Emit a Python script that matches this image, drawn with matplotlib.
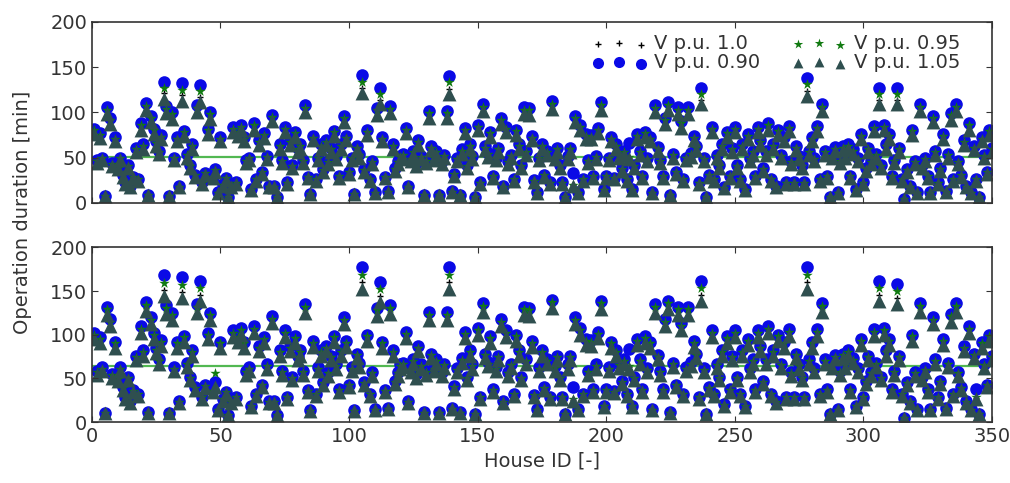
import matplotlib
matplotlib.use("Agg")
import matplotlib.pyplot as plt
import numpy as np

# operation duration [min] per house, upper panel
top_v100 = [
    78, 45, 74, 48, 8, 101, 90, 42, 70, 38,
    48, 30, 22, 40, 18, 28, 58, 25, 84, 62,
    105, 9, 92, 78, 65, 55, 72, 121, 102, 8,
    96, 48, 70, 18, 119, 76, 52, 40, 62, 30,
    103, 117, 22, 32, 78, 96, 28, 35, 11, 70,
    20, 26, 6, 18, 80, 22, 76, 82, 70, 45,
    48, 14, 84, 25, 66, 33, 74, 50, 18, 93,
    18, 6, 62, 45, 80, 22, 66, 40, 75, 58,
    62, 45, 103, 28, 10, 71, 25, 48, 62, 35,
    66, 44, 58, 76, 50, 29, 62, 92, 71, 33,
    48, 10, 60, 52, 127, 35, 77, 25, 44, 11,
    100, 114, 70, 28, 12, 102, 62, 36, 44, 50,
    52, 79, 18, 47, 55, 42, 66, 50, 9, 45,
    97, 60, 48, 55, 9, 44, 51, 97, 126, 12,
    31, 47, 9, 56, 79, 40, 62, 50, 7, 82,
    22, 104, 60, 53, 75, 29, 48, 58, 90, 18,
    80, 44, 51, 25, 77, 62, 40, 101, 55, 100,
    71, 24, 11, 48, 62, 30, 55, 22, 107, 49,
    58, 40, 22, 7, 50, 58, 20, 92, 11, 82,
    25, 73, 45, 72, 29, 50, 79, 106, 14, 29,
    48, 70, 27, 62, 51, 36, 55, 25, 50, 14,
    40, 73, 55, 29, 75, 47, 70, 11, 103, 59,
    45, 29, 90, 106, 9, 52, 33, 101, 86, 25,
    48, 101, 53, 71, 60, 22, 114, 47, 7, 30,
    80, 25, 51, 40, 62, 16, 75, 29, 58, 80,
    40, 25, 62, 14, 73, 47, 55, 29, 80, 66,
    36, 55, 84, 25, 62, 18, 77, 51, 70, 22,
    81, 44, 22, 60, 50, 40, 22, 124, 55, 70,
    47, 81, 25, 104, 55, 29, 7, 51, 59, 11,
    45, 60, 51, 62, 29, 56, 14, 47, 73, 22,
    36, 58, 44, 81, 52, 114, 40, 82, 62, 73,
    29, 45, 114, 58, 25, 4, 35, 18, 77, 44,
    11, 104, 40, 47, 29, 11, 92, 55, 22, 36,
    73, 12, 52, 95, 25, 104, 44, 30, 66, 18,
    84, 11, 60, 25, 7, 70, 51, 33, 77, 58,
]
top_v090 = [
    82, 47, 77, 50, 8, 106, 94, 44, 73, 40,
    50, 31, 23, 42, 19, 29, 61, 26, 88, 65,
    110, 9, 96, 82, 68, 57, 75, 134, 107, 8,
    100, 50, 73, 19, 132, 79, 54, 42, 65, 31,
    108, 130, 23, 33, 82, 100, 29, 37, 12, 73,
    21, 27, 6, 19, 84, 23, 79, 86, 73, 47,
    50, 15, 88, 26, 69, 34, 77, 52, 19, 97,
    19, 6, 65, 47, 84, 23, 69, 42, 78, 61,
    65, 47, 108, 29, 10, 74, 26, 50, 65, 37,
    69, 46, 61, 79, 52, 30, 65, 96, 74, 34,
    50, 10, 63, 54, 141, 37, 80, 26, 46, 12,
    105, 127, 73, 29, 13, 107, 65, 38, 46, 52,
    54, 83, 19, 49, 57, 44, 69, 52, 9, 47,
    101, 63, 50, 57, 9, 46, 53, 101, 140, 13,
    32, 49, 9, 59, 83, 42, 65, 52, 7, 86,
    23, 109, 63, 55, 78, 30, 50, 61, 94, 19,
    84, 46, 53, 26, 80, 65, 42, 106, 57, 105,
    74, 25, 12, 50, 65, 31, 57, 23, 112, 51,
    61, 42, 23, 7, 52, 61, 33, 96, 12, 86,
    26, 76, 47, 75, 30, 52, 83, 111, 15, 30,
    50, 73, 28, 65, 53, 38, 57, 26, 66, 15,
    42, 76, 57, 30, 78, 49, 73, 12, 108, 62,
    47, 30, 94, 111, 9, 54, 34, 106, 90, 26,
    50, 106, 55, 74, 63, 23, 127, 49, 7, 31,
    84, 26, 53, 42, 65, 17, 78, 30, 61, 84,
    42, 26, 65, 15, 76, 49, 57, 30, 84, 69,
    38, 57, 88, 26, 65, 19, 80, 53, 73, 23,
    85, 46, 23, 63, 52, 42, 23, 138, 57, 73,
    49, 85, 26, 109, 57, 30, 7, 53, 62, 12,
    47, 63, 53, 65, 30, 59, 15, 49, 76, 23,
    38, 61, 46, 85, 54, 127, 42, 86, 65, 76,
    30, 47, 127, 61, 26, 4, 37, 19, 80, 46,
    12, 109, 42, 49, 30, 12, 96, 57, 23, 38,
    76, 13, 54, 99, 26, 109, 46, 31, 69, 19,
    88, 12, 63, 26, 7, 73, 53, 34, 80, 61,
]
top_v095 = [
    80, 46, 75, 49, 8, 103, 92, 43, 71, 39,
    49, 31, 22, 41, 18, 29, 59, 26, 86, 63,
    107, 9, 94, 80, 66, 56, 73, 127, 104, 8,
    98, 49, 71, 18, 125, 78, 53, 41, 63, 31,
    105, 123, 22, 33, 80, 98, 29, 36, 11, 71,
    20, 27, 6, 18, 82, 22, 78, 84, 71, 46,
    49, 14, 86, 26, 67, 34, 75, 51, 18, 95,
    18, 6, 63, 46, 82, 22, 67, 41, 77, 59,
    63, 46, 105, 29, 10, 72, 26, 49, 63, 36,
    67, 45, 59, 78, 51, 30, 63, 94, 72, 34,
    49, 10, 61, 53, 134, 36, 78, 26, 45, 11,
    102, 120, 71, 29, 12, 104, 63, 37, 45, 51,
    53, 81, 18, 48, 56, 43, 67, 51, 9, 46,
    99, 61, 49, 56, 9, 45, 52, 99, 133, 12,
    32, 48, 9, 57, 81, 41, 63, 51, 7, 84,
    22, 106, 61, 54, 77, 30, 49, 59, 92, 18,
    82, 45, 52, 26, 79, 63, 41, 103, 56, 102,
    72, 24, 11, 49, 63, 31, 56, 22, 109, 50,
    59, 41, 22, 7, 51, 59, 20, 94, 11, 84,
    26, 74, 46, 73, 30, 51, 81, 108, 14, 30,
    49, 71, 28, 63, 52, 37, 56, 26, 51, 14,
    41, 74, 56, 30, 77, 48, 71, 11, 105, 60,
    46, 30, 92, 108, 9, 53, 34, 103, 88, 26,
    49, 103, 54, 72, 61, 22, 120, 48, 7, 31,
    82, 26, 52, 41, 63, 16, 77, 30, 59, 82,
    41, 26, 63, 14, 74, 48, 56, 30, 82, 67,
    37, 56, 86, 26, 63, 18, 79, 52, 71, 22,
    83, 45, 22, 61, 51, 41, 22, 131, 56, 71,
    48, 83, 26, 106, 56, 30, 7, 52, 60, 11,
    46, 61, 52, 63, 30, 57, 14, 48, 74, 22,
    37, 59, 45, 83, 53, 120, 41, 84, 63, 74,
    30, 46, 120, 59, 26, 4, 36, 18, 79, 45,
    11, 106, 41, 48, 30, 11, 94, 56, 22, 37,
    74, 12, 53, 97, 26, 106, 45, 31, 67, 18,
    86, 11, 61, 26, 7, 71, 52, 34, 79, 59,
]
top_v105 = [
    76, 44, 72, 47, 8, 98, 87, 41, 68, 37,
    47, 29, 21, 39, 17, 27, 56, 24, 81, 60,
    102, 9, 89, 76, 63, 54, 70, 115, 99, 8,
    93, 47, 68, 17, 113, 74, 50, 39, 60, 29,
    100, 111, 21, 31, 76, 93, 27, 34, 11, 68,
    19, 25, 6, 17, 78, 21, 74, 80, 68, 44,
    47, 14, 81, 24, 64, 32, 72, 48, 17, 90,
    17, 6, 60, 44, 78, 21, 64, 39, 73, 56,
    60, 44, 100, 27, 10, 69, 24, 47, 60, 34,
    64, 43, 56, 74, 48, 28, 60, 89, 69, 32,
    47, 10, 58, 50, 121, 34, 75, 24, 43, 11,
    97, 109, 68, 27, 12, 99, 60, 35, 43, 48,
    50, 77, 17, 46, 53, 41, 64, 48, 9, 44,
    94, 58, 47, 53, 9, 43, 49, 94, 120, 12,
    30, 46, 9, 54, 77, 39, 60, 48, 7, 80,
    21, 101, 58, 51, 73, 28, 47, 56, 87, 17,
    78, 43, 49, 24, 75, 60, 39, 98, 53, 97,
    69, 23, 11, 47, 60, 29, 53, 21, 104, 48,
    56, 39, 21, 7, 48, 56, 19, 89, 11, 80,
    24, 71, 44, 70, 28, 48, 77, 103, 14, 28,
    47, 68, 26, 60, 49, 35, 53, 24, 48, 14,
    39, 71, 53, 28, 73, 46, 68, 11, 100, 57,
    44, 28, 87, 103, 9, 50, 32, 98, 83, 24,
    47, 98, 51, 69, 58, 21, 109, 46, 7, 29,
    78, 24, 49, 39, 60, 16, 73, 28, 56, 78,
    39, 24, 60, 14, 71, 46, 53, 28, 78, 64,
    35, 53, 81, 24, 60, 17, 75, 49, 68, 21,
    79, 43, 21, 58, 48, 39, 21, 118, 53, 68,
    46, 79, 24, 101, 53, 28, 7, 49, 57, 11,
    44, 58, 49, 60, 28, 54, 14, 46, 71, 21,
    35, 56, 43, 79, 50, 109, 39, 80, 60, 71,
    28, 44, 109, 56, 24, 4, 34, 17, 75, 43,
    11, 101, 39, 46, 28, 11, 89, 53, 21, 35,
    71, 12, 50, 92, 24, 101, 43, 29, 64, 17,
    81, 11, 58, 24, 7, 68, 49, 32, 75, 56,
]

# lower panel
bot_v100 = [
    98, 56, 93, 60, 10, 126, 113, 53, 88, 48,
    60, 38, 28, 50, 23, 35, 73, 31, 105, 78,
    131, 11, 115, 98, 81, 69, 90, 151, 128, 10,
    120, 60, 88, 23, 149, 95, 65, 50, 78, 38,
    129, 146, 28, 40, 98, 120, 35, 42, 14, 88,
    25, 33, 8, 23, 100, 28, 95, 103, 88, 56,
    60, 18, 105, 31, 83, 41, 93, 63, 23, 116,
    23, 8, 78, 56, 100, 28, 83, 50, 94, 73,
    78, 56, 129, 35, 13, 89, 31, 60, 78, 44,
    83, 55, 73, 95, 63, 36, 78, 115, 89, 41,
    60, 13, 75, 65, 160, 44, 96, 31, 55, 14,
    125, 144, 88, 35, 15, 128, 78, 45, 55, 63,
    65, 99, 23, 59, 69, 53, 83, 63, 11, 56,
    121, 75, 60, 69, 11, 55, 64, 121, 160, 15,
    39, 59, 11, 70, 99, 50, 78, 63, 9, 103,
    28, 130, 75, 66, 94, 36, 60, 73, 113, 23,
    100, 55, 64, 31, 96, 78, 50, 126, 69, 125,
    89, 30, 14, 60, 78, 38, 69, 28, 134, 61,
    73, 50, 28, 9, 63, 73, 25, 115, 14, 103,
    31, 91, 56, 90, 36, 63, 99, 133, 18, 36,
    60, 88, 34, 78, 64, 45, 69, 31, 63, 18,
    50, 91, 69, 36, 94, 59, 88, 14, 129, 74,
    56, 36, 113, 133, 11, 65, 41, 126, 108, 31,
    60, 126, 66, 89, 75, 28, 145, 59, 9, 38,
    100, 31, 64, 50, 78, 20, 94, 36, 73, 100,
    50, 31, 78, 18, 91, 59, 69, 36, 100, 83,
    45, 69, 105, 31, 78, 23, 96, 64, 88, 28,
    101, 55, 28, 75, 63, 50, 28, 160, 69, 88,
    59, 101, 31, 130, 69, 36, 9, 64, 74, 14,
    56, 75, 64, 78, 36, 70, 18, 59, 91, 28,
    45, 73, 55, 101, 65, 146, 50, 103, 78, 91,
    36, 56, 142, 73, 31, 5, 44, 23, 96, 55,
    14, 130, 50, 59, 36, 14, 115, 69, 28, 45,
    91, 15, 65, 119, 31, 130, 55, 38, 83, 23,
    105, 14, 75, 28, 9, 88, 64, 41, 96, 73,
]
bot_v090 = [
    102, 59, 97, 63, 10, 132, 118, 55, 92, 50,
    63, 40, 29, 52, 24, 37, 76, 32, 110, 82,
    137, 12, 120, 102, 85, 72, 94, 168, 134, 10,
    125, 63, 92, 24, 166, 99, 68, 52, 82, 40,
    135, 162, 29, 42, 102, 125, 37, 46, 15, 92,
    26, 34, 8, 24, 105, 29, 99, 108, 92, 59,
    63, 19, 110, 32, 87, 43, 97, 66, 24, 121,
    24, 8, 82, 59, 105, 29, 87, 52, 98, 76,
    82, 59, 135, 37, 14, 93, 32, 63, 82, 46,
    87, 57, 76, 99, 66, 38, 82, 120, 93, 43,
    63, 14, 78, 68, 178, 46, 100, 32, 57, 15,
    131, 160, 92, 37, 16, 134, 82, 47, 57, 66,
    68, 103, 24, 62, 72, 55, 87, 66, 12, 59,
    126, 78, 63, 72, 12, 57, 67, 126, 178, 16,
    41, 62, 12, 73, 103, 52, 82, 66, 9, 108,
    29, 136, 78, 69, 98, 38, 63, 76, 118, 24,
    105, 57, 67, 32, 100, 82, 52, 132, 72, 131,
    93, 31, 15, 63, 82, 40, 72, 29, 140, 64,
    76, 52, 29, 9, 66, 76, 40, 120, 15, 108,
    32, 95, 59, 94, 38, 66, 103, 139, 19, 38,
    63, 92, 36, 82, 67, 47, 72, 32, 84, 19,
    52, 95, 72, 38, 98, 62, 92, 15, 135, 77,
    59, 38, 118, 139, 12, 68, 43, 132, 113, 32,
    63, 132, 69, 93, 78, 29, 161, 62, 9, 40,
    105, 32, 67, 52, 82, 21, 98, 38, 76, 105,
    52, 32, 82, 19, 95, 62, 72, 38, 105, 87,
    47, 72, 110, 32, 82, 24, 100, 67, 92, 29,
    106, 57, 29, 78, 66, 52, 29, 178, 72, 92,
    62, 106, 32, 136, 72, 38, 9, 67, 77, 15,
    59, 78, 67, 82, 38, 73, 19, 62, 95, 29,
    47, 76, 57, 106, 68, 162, 52, 108, 82, 95,
    38, 59, 158, 76, 32, 5, 46, 24, 100, 57,
    15, 136, 52, 62, 38, 15, 120, 72, 29, 47,
    95, 16, 68, 124, 32, 136, 57, 40, 87, 24,
    110, 15, 78, 38, 9, 92, 67, 43, 100, 76,
]
bot_v095 = [
    100, 57, 95, 61, 10, 129, 115, 54, 90, 49,
    61, 39, 29, 51, 23, 36, 74, 32, 107, 80,
    134, 11, 117, 100, 83, 70, 92, 159, 131, 10,
    122, 61, 90, 23, 157, 97, 66, 51, 80, 39,
    132, 154, 29, 41, 100, 122, 36, 56, 14, 90,
    26, 34, 8, 23, 102, 29, 97, 105, 90, 57,
    61, 18, 107, 32, 85, 42, 95, 64, 23, 118,
    23, 8, 80, 57, 102, 29, 85, 51, 96, 74,
    80, 57, 132, 36, 13, 91, 32, 61, 80, 45,
    85, 56, 74, 97, 64, 37, 80, 117, 91, 42,
    61, 13, 77, 66, 168, 45, 98, 32, 56, 14,
    128, 152, 90, 36, 15, 131, 80, 46, 56, 64,
    66, 101, 23, 60, 70, 54, 85, 64, 11, 57,
    123, 77, 61, 70, 11, 56, 65, 123, 168, 15,
    40, 60, 11, 71, 101, 51, 80, 64, 9, 105,
    29, 133, 77, 67, 96, 37, 61, 74, 115, 23,
    102, 56, 65, 32, 98, 80, 51, 129, 70, 128,
    91, 31, 14, 61, 80, 39, 70, 29, 137, 62,
    74, 51, 29, 9, 64, 74, 26, 117, 14, 105,
    32, 93, 57, 92, 37, 64, 101, 136, 18, 37,
    61, 90, 35, 80, 65, 46, 70, 32, 64, 18,
    51, 93, 70, 37, 96, 60, 90, 14, 132, 75,
    57, 37, 115, 136, 11, 66, 42, 129, 110, 32,
    61, 129, 67, 91, 77, 29, 153, 60, 9, 39,
    102, 32, 65, 51, 80, 20, 96, 37, 74, 102,
    51, 32, 80, 18, 93, 60, 70, 37, 102, 85,
    46, 70, 107, 32, 80, 23, 98, 65, 90, 29,
    103, 56, 29, 77, 64, 51, 29, 168, 70, 90,
    60, 103, 32, 133, 70, 37, 9, 65, 75, 14,
    57, 77, 65, 80, 37, 71, 18, 60, 93, 29,
    46, 74, 56, 103, 66, 154, 51, 105, 80, 93,
    37, 57, 150, 74, 32, 5, 45, 23, 98, 56,
    14, 133, 51, 60, 37, 14, 117, 70, 29, 46,
    93, 15, 66, 121, 32, 133, 56, 39, 85, 23,
    107, 14, 77, 29, 9, 90, 65, 42, 98, 74,
]
bot_v105 = [
    95, 54, 90, 58, 10, 122, 110, 51, 85, 47,
    58, 37, 27, 48, 22, 34, 71, 30, 102, 76,
    127, 11, 112, 95, 79, 67, 87, 144, 124, 10,
    117, 58, 85, 22, 142, 92, 63, 48, 76, 37,
    125, 139, 27, 39, 95, 117, 34, 40, 14, 85,
    24, 32, 8, 22, 97, 27, 92, 100, 85, 54,
    58, 17, 102, 30, 81, 40, 90, 61, 22, 113,
    22, 8, 76, 54, 97, 27, 81, 48, 91, 71,
    76, 54, 125, 34, 13, 86, 30, 58, 76, 43,
    81, 53, 71, 92, 61, 35, 76, 112, 86, 40,
    58, 13, 73, 63, 152, 43, 93, 30, 53, 14,
    121, 137, 85, 34, 15, 124, 76, 44, 53, 61,
    63, 96, 22, 57, 67, 51, 81, 61, 11, 54,
    117, 73, 58, 67, 11, 53, 62, 117, 152, 15,
    38, 57, 11, 68, 96, 48, 76, 61, 9, 100,
    27, 126, 73, 64, 91, 35, 58, 71, 110, 22,
    97, 53, 62, 30, 93, 76, 48, 122, 67, 121,
    86, 29, 14, 58, 76, 37, 67, 27, 130, 59,
    71, 48, 27, 9, 61, 71, 24, 112, 14, 100,
    30, 88, 54, 87, 35, 61, 96, 129, 17, 35,
    58, 85, 33, 76, 62, 44, 67, 30, 61, 17,
    48, 88, 67, 35, 91, 57, 85, 14, 125, 72,
    54, 35, 110, 129, 11, 63, 40, 122, 105, 30,
    58, 122, 64, 86, 73, 27, 138, 57, 9, 37,
    97, 30, 62, 48, 76, 19, 91, 35, 71, 97,
    48, 30, 76, 17, 88, 57, 67, 35, 97, 81,
    44, 67, 102, 30, 76, 22, 93, 62, 85, 27,
    98, 53, 27, 73, 61, 48, 27, 152, 67, 85,
    57, 98, 30, 126, 67, 35, 9, 62, 72, 14,
    54, 73, 62, 76, 35, 68, 17, 57, 88, 27,
    44, 71, 53, 98, 63, 139, 48, 100, 76, 88,
    35, 54, 135, 71, 30, 5, 43, 22, 93, 53,
    14, 126, 48, 57, 35, 14, 112, 67, 27, 44,
    88, 15, 63, 115, 30, 126, 53, 37, 81, 22,
    102, 14, 73, 27, 9, 85, 62, 40, 93, 71,
]

# mean duration (green line) in each panel
top_mean = 51
bot_mean = 64

labels = ["V p.u. 1.0", "V p.u. 0.90", "V p.u. 0.95", "V p.u. 1.05"]

house_id = np.arange(1, len(top_v100) + 1)

# marker, colour, size for each voltage level (drawing order = legend order)
styles = [("+", "k", 14), ("o", "#0a0ae6", 82), ("*", "#117a11", 62), ("^", "#2f4f4f", 100)]

fig = plt.figure(figsize=(10.1, 4.83), dpi=100)
ax_top = fig.add_axes([0.091, 0.580, 0.891, 0.375])
ax_bot = fig.add_axes([0.091, 0.126, 0.891, 0.362])

panels = [
    (ax_top, [top_v100, top_v090, top_v095, top_v105], top_mean),
    (ax_bot, [bot_v100, bot_v090, bot_v095, bot_v105], bot_mean),
]

for ax, data, mean in panels:
    ax.axhline(mean, color="#52b852", lw=1.6, zorder=0.5)
    for (mk, col, s), vals, lab in zip(styles, data, labels):
        if mk == "+":
            ax.scatter(house_id, vals, marker=mk, s=s, c=col, linewidths=1.0, label=lab)
        else:
            ax.scatter(house_id, vals, marker=mk, s=s, c=col, linewidths=0, label=lab)
    ax.set_xlim(0, 350)
    ax.set_ylim(0, 200)
    ax.set_yticks([0, 50, 100, 150, 200])
    ax.set_xticks(np.arange(0, 351, 50))
    ax.tick_params(direction="in", top=True, right=True, length=4, width=0.8,
                   labelsize=14, colors="#333333", labelcolor="#333333")
    for sp in ax.spines.values():
        sp.set_color("#333333")
        sp.set_linewidth(1.2)

ax_top.tick_params(labelbottom=False)
ax_bot.set_xlabel("House ID [-]", fontsize=14, color="#333333")

fig.text(0.022, 0.56, "Operation duration [min]", rotation=90, ha="center", va="center",
         fontsize=14, color="#333333")

leg = ax_top.legend(loc="upper left", ncol=2, scatterpoints=3, frameon=False, fontsize=14,
                    labelspacing=0.0, handletextpad=0.4, columnspacing=1.6, handlelength=2.8,
                    borderpad=0.0, borderaxespad=0.0, bbox_to_anchor=(0.556, 0.93))
for t in leg.get_texts():
    t.set_color("#333333")
for h, s in zip(leg.legend_handles, [25, 64, 50, 50]):
    h.set_sizes([s])

fig.savefig("out.png", dpi=100)
